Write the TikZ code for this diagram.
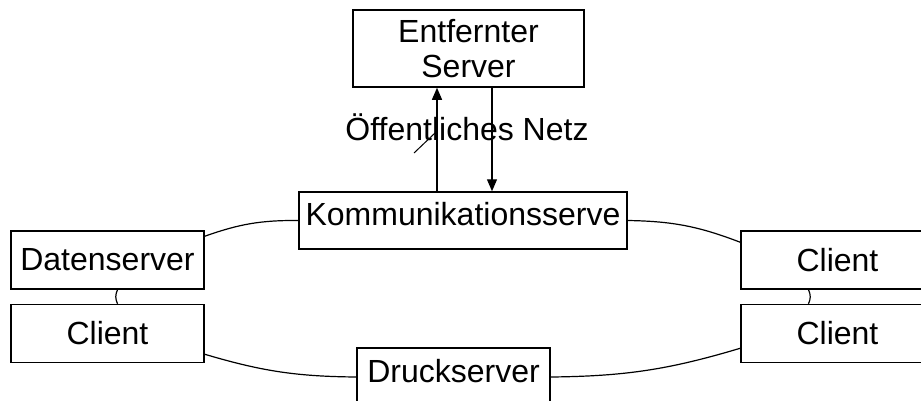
\documentclass[tikz,border=0pt]{standalone}
\usepackage{fontspec}
\setmainfont{Liberation Sans}
\usetikzlibrary{arrows.meta}

\tikzset{
  box/.style={draw, line width=1.5pt, minimum width=193pt, minimum height=58pt, inner sep=0pt, font=\fontsize{32pt}{35pt}\selectfont},
  link/.style={line width=1.2pt},
  arr/.style={line width=1.2pt, -{Triangle[length=12pt,width=10pt]}},
}

\begin{document}
\begin{tikzpicture}[x=1pt,y=-1pt]
  \useasboundingbox (0,0) rectangle (921,400);
  \clip (0,0) rectangle (921,400);

  % server and ring members
  \node[box, minimum width=231pt, minimum height=77pt, align=center] (remote) at (468.5,48.5) {Entfernter\\Server};
  \node[box, minimum width=328pt, minimum height=57pt, text depth=13pt] (komm) at (463,220.5) {Kommunikationsserve};
  \node[box] (daten) at (107.5,260) {Datenserver};
  \node[box] (clientA) at (107.5,333.5) {Client};
  \node[box] (clientB) at (837.5,260) {Client};
  \node[box] (clientC) at (837.5,333.5) {Client};
  \node[box, text depth=12pt] (druck) at (453.5,377) {Druckserver};

  % public network
  \node[font=\fontsize{32pt}{35pt}\selectfont, anchor=base, inner sep=0pt] (netz) at (467,140) {Öffentliches Netz};
  \coordinate (tickA) at (414,153);
  \coordinate (tickB) at (435,133);
  \draw[line width=1pt] (tickA) -- (tickB);

  \draw[arr] ([xshift=-26pt]komm.north) -- ([xshift=-26pt]komm.north |- remote.south);
  \draw[arr] ([xshift=29pt]komm.north |- remote.south) -- ([xshift=29pt]komm.north);

  % ring
  \draw[link] ([yshift=-6pt]daten.north east) to[bend left=10] (komm.west);
  \draw[link] (komm.east) to[bend left=10] ([yshift=-12pt]clientB.north west);
  \draw[link] ([xshift=10pt]daten.south) to[bend right=25] ([xshift=10pt]clientA.north);
  \draw[link] ([xshift=-29pt]clientB.south) to[bend left=25] ([xshift=-29pt]clientC.north);
  \draw[link] ([yshift=9pt]clientA.south east) to[bend right=8] (druck.west);
  \draw[link] (druck.east) to[bend right=8] ([yshift=15pt]clientC.south west);
\end{tikzpicture}
\end{document}
